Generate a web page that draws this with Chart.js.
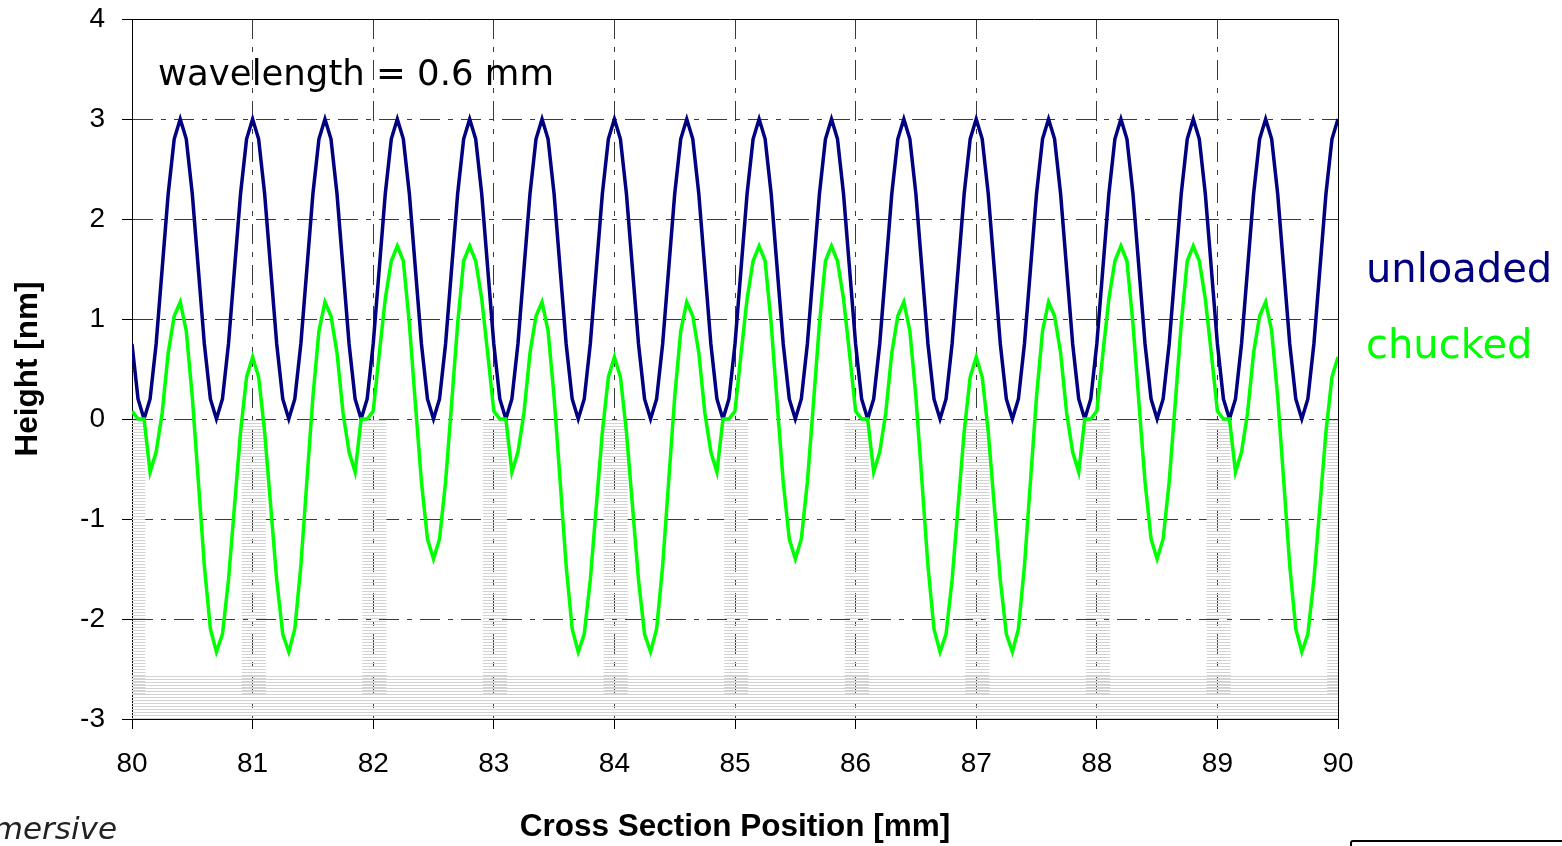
<!DOCTYPE html>
<html lang="en">
<head>
    <meta charset="UTF-8">
    <title>Cross section height - unloaded vs chucked</title>
    <script src="https://cdn.jsdelivr.net/npm/chart.js"></script>
    <style>
        html, body {
            margin: 0;
            padding: 0;
            background: #fff;
        }
        body {
            position: relative;
            width: 1562px;
            height: 846px;
            overflow: hidden;
            font-family: "DejaVu Sans", sans-serif;
        }
        #wrap {
            position: absolute;
            left: 0;
            top: 0;
            width: 1562px;
            height: 846px;
        }
        .note {
            position: absolute;
            white-space: nowrap;
            line-height: 1;
        }
        #wavelength { left: 158px; top: 55px; font-size: 35.5px; color: #000; }
        #lblUnloaded { left: 1366px; top: 248px; font-size: 40px; color: #000080; }
        #lblChucked { left: 1366px; top: 324px; font-size: 40px; color: #00ff00; }
        #brand { right: 1445px; top: 813px; font-size: 31px; font-style: italic; color: #222; }
        #corner {
            position: absolute;
            left: 1350px;
            top: 840px;
            width: 240px;
            height: 40px;
            border: 2px solid #000;
            border-radius: 3px;
        }
    </style>
</head>
<body>
    <div id="wrap"><canvas id="profileChart"></canvas></div>
    <div class="note" id="wavelength">wavelength = 0.6 mm</div>
    <div class="note" id="lblUnloaded">unloaded</div>
    <div class="note" id="lblChucked">chucked</div>
    <div class="note" id="brand">Immersive</div>
    <div id="corner"></div>
    <script>
        // cross section positions [mm]
        const positions = [
            80, 80.05, 80.1, 80.15, 80.2, 80.25, 80.3, 80.35, 80.4, 80.45, 80.5, 80.55, 80.6, 80.65, 80.7, 80.75, 80.8, 80.85, 80.9, 80.95,
            81, 81.05, 81.1, 81.15, 81.2, 81.25, 81.3, 81.35, 81.4, 81.45, 81.5, 81.55, 81.6, 81.65, 81.7, 81.75, 81.8, 81.85, 81.9, 81.95,
            82, 82.05, 82.1, 82.15, 82.2, 82.25, 82.3, 82.35, 82.4, 82.45, 82.5, 82.55, 82.6, 82.65, 82.7, 82.75, 82.8, 82.85, 82.9, 82.95,
            83, 83.05, 83.1, 83.15, 83.2, 83.25, 83.3, 83.35, 83.4, 83.45, 83.5, 83.55, 83.6, 83.65, 83.7, 83.75, 83.8, 83.85, 83.9, 83.95,
            84, 84.05, 84.1, 84.15, 84.2, 84.25, 84.3, 84.35, 84.4, 84.45, 84.5, 84.55, 84.6, 84.65, 84.7, 84.75, 84.8, 84.85, 84.9, 84.95,
            85, 85.05, 85.1, 85.15, 85.2, 85.25, 85.3, 85.35, 85.4, 85.45, 85.5, 85.55, 85.6, 85.65, 85.7, 85.75, 85.8, 85.85, 85.9, 85.95,
            86, 86.05, 86.1, 86.15, 86.2, 86.25, 86.3, 86.35, 86.4, 86.45, 86.5, 86.55, 86.6, 86.65, 86.7, 86.75, 86.8, 86.85, 86.9, 86.95,
            87, 87.05, 87.1, 87.15, 87.2, 87.25, 87.3, 87.35, 87.4, 87.45, 87.5, 87.55, 87.6, 87.65, 87.7, 87.75, 87.8, 87.85, 87.9, 87.95,
            88, 88.05, 88.1, 88.15, 88.2, 88.25, 88.3, 88.35, 88.4, 88.45, 88.5, 88.55, 88.6, 88.65, 88.7, 88.75, 88.8, 88.85, 88.9, 88.95,
            89, 89.05, 89.1, 89.15, 89.2, 89.25, 89.3, 89.35, 89.4, 89.45, 89.5, 89.55, 89.6, 89.65, 89.7, 89.75, 89.8, 89.85, 89.9, 89.95,
            90
        ];

        // unloaded height [nm]
        const unloaded = [
            0.75, 0.2, 0, 0.2, 0.75, 1.5, 2.25, 2.8, 3, 2.8, 2.25, 1.5,
            0.75, 0.2, 0, 0.2, 0.75, 1.5, 2.25, 2.8, 3, 2.8, 2.25, 1.5,
            0.75, 0.2, 0, 0.2, 0.75, 1.5, 2.25, 2.8, 3, 2.8, 2.25, 1.5,
            0.75, 0.2, 0, 0.2, 0.75, 1.5, 2.25, 2.8, 3, 2.8, 2.25, 1.5,
            0.75, 0.2, 0, 0.2, 0.75, 1.5, 2.25, 2.8, 3, 2.8, 2.25, 1.5,
            0.75, 0.2, 0, 0.2, 0.75, 1.5, 2.25, 2.8, 3, 2.8, 2.25, 1.5,
            0.75, 0.2, 0, 0.2, 0.75, 1.5, 2.25, 2.8, 3, 2.8, 2.25, 1.5,
            0.75, 0.2, 0, 0.2, 0.75, 1.5, 2.25, 2.8, 3, 2.8, 2.25, 1.5,
            0.75, 0.2, 0, 0.2, 0.75, 1.5, 2.25, 2.8, 3, 2.8, 2.25, 1.5,
            0.75, 0.2, 0, 0.2, 0.75, 1.5, 2.25, 2.8, 3, 2.8, 2.25, 1.5,
            0.75, 0.2, 0, 0.2, 0.75, 1.5, 2.25, 2.8, 3, 2.8, 2.25, 1.5,
            0.75, 0.2, 0, 0.2, 0.75, 1.5, 2.25, 2.8, 3, 2.8, 2.25, 1.5,
            0.75, 0.2, 0, 0.2, 0.75, 1.5, 2.25, 2.8, 3, 2.8, 2.25, 1.5,
            0.75, 0.2, 0, 0.2, 0.75, 1.5, 2.25, 2.8, 3, 2.8, 2.25, 1.5,
            0.75, 0.2, 0, 0.2, 0.75, 1.5, 2.25, 2.8, 3, 2.8, 2.25, 1.5,
            0.75, 0.2, 0, 0.2, 0.75, 1.5, 2.25, 2.8, 3, 2.8, 2.25, 1.5,
            0.75, 0.2, 0, 0.2, 0.75, 1.5, 2.25, 2.8, 3
        ];

        // chucked height [nm]
        const chucked = [
            0.08, 0, 0, -0.53, -0.33, 0.06, 0.66, 1.03, 1.17, 0.88, 0.22, -0.62, -1.47, -2.1, -2.33, -2.15, -1.61, -0.87, -0.13, 0.42, 0.62,
            0.42, -0.13, -0.87, -1.61, -2.15, -2.33, -2.1, -1.47, -0.62, 0.22, 0.88, 1.17, 1.03, 0.66, 0.06, -0.33, -0.53, 0, 0, 0.08, 0.65, 1.2, 1.58, 1.73, 1.58, 0.95, 0.15, -0.63, -1.2, -1.4,
            -1.2, -0.63, 0.15, 0.95, 1.58, 1.73, 1.58, 1.2, 0.65, 0.08, 0, 0, -0.53, -0.33, 0.06, 0.66, 1.03, 1.17, 0.88, 0.22, -0.62, -1.47, -2.1, -2.33, -2.15, -1.61, -0.87, -0.13, 0.42, 0.62,
            0.42, -0.13, -0.87, -1.61, -2.15, -2.33, -2.1, -1.47, -0.62, 0.22, 0.88, 1.17, 1.03, 0.66, 0.06, -0.33, -0.53, 0, 0, 0.08, 0.65, 1.2, 1.58, 1.73, 1.58, 0.95, 0.15, -0.63, -1.2, -1.4,
            -1.2, -0.63, 0.15, 0.95, 1.58, 1.73, 1.58, 1.2, 0.65, 0.08, 0, 0, -0.53, -0.33, 0.06, 0.66, 1.03, 1.17, 0.88, 0.22, -0.62, -1.47, -2.1, -2.33, -2.15, -1.61, -0.87, -0.13, 0.42, 0.62,
            0.42, -0.13, -0.87, -1.61, -2.15, -2.33, -2.1, -1.47, -0.62, 0.22, 0.88, 1.17, 1.03, 0.66, 0.06, -0.33, -0.53, 0, 0, 0.08, 0.65, 1.2, 1.58, 1.73, 1.58, 0.95, 0.15, -0.63, -1.2, -1.4,
            -1.2, -0.63, 0.15, 0.95, 1.58, 1.73, 1.58, 1.2, 0.65, 0.08, 0, 0, -0.53, -0.33, 0.06, 0.66, 1.03, 1.17, 0.88, 0.22, -0.62, -1.47, -2.1, -2.33, -2.15, -1.61, -0.87, -0.13, 0.42, 0.62
        ];

        // chuck pin supports (gray hatched) [mm] and their depth [nm]
        const pinStart = [79.91, 80.91, 81.91, 82.91, 83.91, 84.91, 85.91, 86.91, 87.91, 88.91, 89.91];
        const pinEnd = [80.11, 81.11, 82.11, 83.11, 84.11, 85.11, 86.11, 87.11, 88.11, 89.11, 90.11];
        const pinTop = 0;
        const pinBottom = -2.76;
        const baseTop = -2.55;
        const baseRange = [80, 90];

        const xTicks = [80, 81, 82, 83, 84, 85, 86, 87, 88, 89, 90];
        const yTicks = [-3, -2, -1, 0, 1, 2, 3, 4];

        const canvas = document.getElementById('profileChart');
        const ctx = canvas.getContext('2d');

        // light gray horizontal hatching like the original
        function hatch(row) {
            const c = document.createElement('canvas');
            c.width = 6;
            c.height = 3;
            const g = c.getContext('2d');
            g.fillStyle = '#d2d2d2';
            g.fillRect(0, row, 6, 1);
            return ctx.createPattern(c, 'repeat');
        }

        const pinPoints = [];
        pinStart.forEach((s, k) => {
            pinPoints.push({ x: s, y: pinBottom }, { x: s, y: pinTop }, { x: pinEnd[k], y: pinTop }, { x: pinEnd[k], y: pinBottom });
        });

        const gridColor = (last) => (c) => (c.tick && c.tick.value === last ? 'rgba(0,0,0,0)' : '#3a3a3a');

        // top and right frame lines
        const frame = {
            id: 'frame',
            beforeDatasetsDraw(chart) {
                const a = chart.chartArea;
                const c = chart.ctx;
                c.save();
                c.strokeStyle = '#000';
                c.lineWidth = 1;
                c.beginPath();
                c.moveTo(a.left - 10, Math.round(a.top) + 0.5);
                c.lineTo(Math.round(a.right) + 0.5, Math.round(a.top) + 0.5);
                c.lineTo(Math.round(a.right) + 0.5, a.bottom);
                c.stroke();
                c.restore();
            }
        };

        const tickFont = { family: '"Liberation Sans", Arial, sans-serif', size: 28 };
        const titleFont = { family: '"Liberation Sans", Arial, sans-serif', size: 31.5, weight: 'bold' };

        new Chart(ctx, {
            type: 'line',
            data: {
                datasets: [
                    {
                        label: 'chucked',
                        data: positions.map((x, i) => ({ x: x, y: chucked[i] })),
                        borderColor: '#00ff00',
                        borderWidth: 3.5,
                        pointRadius: 0,
                        tension: 0,
                        fill: false
                    },
                    {
                        label: 'unloaded',
                        data: positions.map((x, i) => ({ x: x, y: unloaded[i] })),
                        borderColor: '#000080',
                        borderWidth: 3.5,
                        pointRadius: 0,
                        tension: 0,
                        fill: false
                    },
                    {
                        label: 'pins',
                        data: pinPoints,
                        borderColor: 'rgba(0,0,0,0)',
                        backgroundColor: hatch(0),
                        pointRadius: 0,
                        tension: 0,
                        fill: { value: pinBottom }
                    },
                    {
                        label: 'base',
                        data: baseRange.map(x => ({ x: x, y: baseTop })),
                        borderColor: 'rgba(0,0,0,0)',
                        backgroundColor: hatch(1),
                        pointRadius: 0,
                        tension: 0,
                        fill: 'start'
                    }
                ]
            },
            options: {
                responsive: true,
                maintainAspectRatio: false,
                animation: false,
                events: [],
                layout: { padding: { left: 0, top: 19, right: 224, bottom: 0 } },
                plugins: {
                    legend: { display: false },
                    tooltip: { enabled: false }
                },
                scales: {
                    x: {
                        type: 'linear',
                        min: 80,
                        max: 90,
                        afterBuildTicks: s => { s.ticks = xTicks.map(v => ({ value: v })); },
                        afterFit: s => { s.height = 127; },
                        ticks: { color: '#000', font: tickFont, padding: 18, maxRotation: 0, autoSkip: false, callback: v => v },
                        grid: { color: gridColor(90), lineWidth: 1, tickColor: '#000', tickLength: 10 },
                        border: { color: '#000', width: 1, dash: [20, 8, 5, 8] },
                        title: { display: true, text: 'Cross Section Position [mm]', color: '#000', font: titleFont, padding: { top: 0, bottom: 0 } }
                    },
                    y: {
                        type: 'linear',
                        min: -3,
                        max: 4,
                        afterBuildTicks: s => { s.ticks = yTicks.map(v => ({ value: v })); },
                        afterFit: s => { s.width = 132; s.paddingTop = 0; s.paddingBottom = 0; },
                        ticks: { color: '#000', font: tickFont, padding: 17, callback: v => v },
                        grid: { color: gridColor(4), lineWidth: 1, tickColor: '#000', tickLength: 10 },
                        border: { color: '#000', width: 1, dash: [20, 8, 5, 8] },
                        title: { display: true, text: 'Height [nm]', color: '#000', font: titleFont, padding: { top: 9, bottom: 0 } }
                    }
                }
            },
            plugins: [frame]
        });
    </script>
</body>
</html>
